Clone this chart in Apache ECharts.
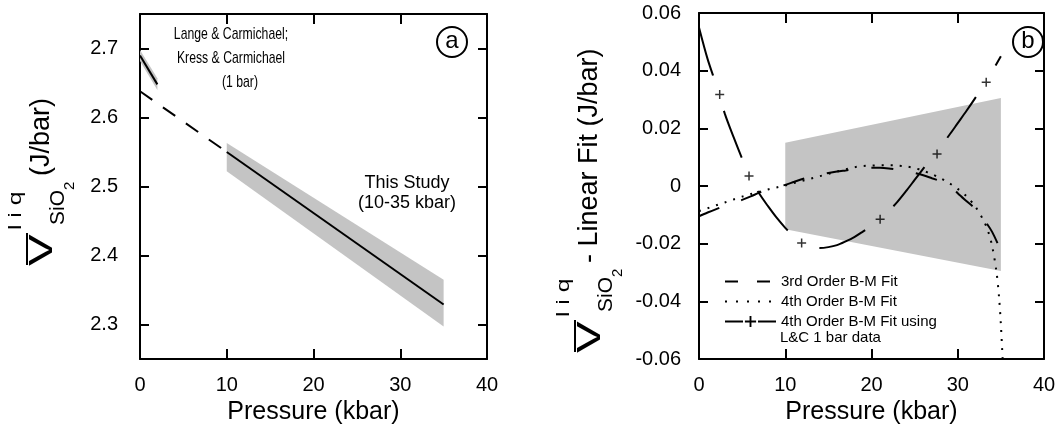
<!DOCTYPE html>
<html>
<head>
<meta charset="utf-8">
<script src="https://cdn.jsdelivr.net/npm/echarts@6/dist/echarts.min.js"></script>
<style>
  html, body { margin: 0; padding: 0; background: #fff; }
  #chart { width: 1063px; height: 439px; }
</style>
</head>
<body>
<div id="chart"></div>
<script>
// ---------- panel (a) ----------
const fitX = [0, 10];                 // linear fit extrapolated to 1 bar (dashed)
const fitY = [2.638, 2.550];
const studyX = [10, 35];              // this study, 10-35 kbar
const studyY = [2.550, 2.329];
const studyBandX = [10, 35];
const studyBandHi = [2.563, 2.365];
const studyBandLo = [2.522, 2.297];
const lcX = [0, 2];                   // Lange & Carmichael / Kress & Carmichael
const lcY = [2.690, 2.648];
const lcBandHi = [2.698, 2.657];
const lcBandLo = [2.682, 2.640];

// ---------- panel (b) ----------
const pX = [0, 1, 2, 3, 4, 5, 6, 7, 8, 9, 10, 11, 12, 13, 14, 15, 16, 17, 18, 19,
  20, 21, 22, 23, 24, 25, 26, 27, 28, 29, 30, 31, 32, 33, 34, 35];
const bm3Y = [-0.0105, -0.0092, -0.0080, -0.0069, -0.0058, -0.0048, -0.0036, -0.0023, -0.0012, -0.0004,
  0.0004, 0.0014, 0.0024, 0.0032, 0.0039, 0.0045, 0.0050, 0.0054, 0.0058, 0.0061,
  0.0063, 0.0063, 0.0061, 0.0057, 0.0052, 0.0045, 0.0037, 0.0027, 0.0017, 0.0006,
  -0.0025, -0.0052, -0.0078, -0.0115, -0.0160, -0.0225];
const bm4X = [0, 1, 2, 3, 4, 5, 6, 7, 8, 9, 10, 11, 12, 13, 14, 15, 16, 17, 18, 19,
  20, 21, 22, 23, 24, 25, 26, 27, 28, 29, 30, 31, 32, 33, 33.5, 34, 34.5, 34.8, 35, 35.2];
const bm4Y = [-0.0087, -0.0077, -0.0067, -0.0057, -0.0047, -0.0037, -0.0028, -0.0020, -0.0012, -0.0005,
  0.0002, 0.0010, 0.0018, 0.0026, 0.0034, 0.0042, 0.0050, 0.0058, 0.0065, 0.0069,
  0.0071, 0.0072, 0.0072, 0.0071, 0.0068, 0.0062, 0.0053, 0.0041, 0.0027, 0.0010,
  -0.0010, -0.0035, -0.0070, -0.0120, -0.0155, -0.0210, -0.0300, -0.0390, -0.0480, -0.0600];
const lcFitY = [0.0550, 0.0440, 0.0350, 0.0250, 0.0170, 0.0095, 0.0025, -0.0027, -0.0070, -0.0110,
  -0.0145, -0.0175, -0.0198, -0.0210, -0.0215, -0.0212, -0.0205, -0.0192, -0.0177, -0.0158,
  -0.0138, -0.0115, -0.0087, -0.0055, -0.0018, 0.0021, 0.0060, 0.0098, 0.0136, 0.0176,
  0.0218, 0.0260, 0.0304, 0.0350, 0.0398, 0.0450];
const plusX = [2.4, 5.8, 11.9, 21.0, 27.6, 33.3];
const plusY = [0.0317, 0.0035, -0.0198, -0.0115, 0.0111, 0.0360];
const errBandX = [10, 35];
const errBandHi = [0.0150, 0.0305];
const errBandLo = [-0.0150, -0.0295];

const FONT = '"Liberation Sans", Arial, Helvetica, sans-serif';
const INK = '#000';
const BAND = '#c4c4c4';
const PLUS = 'path://M4,0h1.6v9.6h-1.6z M0,4h9.6v1.6h-9.6z';

const zip = (xs, ys) => xs.map((x, i) => [x, ys[i]]);

function bandSeries(xs, hi, lo, axis) {
  return {
    type: 'custom', xAxisIndex: axis, yAxisIndex: axis, silent: true, z: 1,
    data: [[xs[0], hi[0]]],
    renderItem: (params, api) => {
      const pts = [];
      xs.forEach((x, i) => pts.push(api.coord([x, hi[i]])));
      for (let i = xs.length - 1; i >= 0; i--) pts.push(api.coord([xs[i], lo[i]]));
      return { type: 'polygon', shape: { points: pts }, style: { fill: BAND } };
    },
  };
}

function lineSeries(name, data, axis, dash, extra) {
  return Object.assign({
    name, type: 'line', data, xAxisIndex: axis, yAxisIndex: axis,
    symbol: 'none', silent: true, z: 3,
    lineStyle: { color: INK, width: 2, type: dash },
    itemStyle: { color: INK },
  }, extra || {});
}

function xAxes(grid) {
  const base = {
    gridIndex: grid, type: 'value', min: 0, max: 40, interval: 10,
    axisLine: { onZero: false, lineStyle: { color: INK, width: 2 } },
    axisTick: { inside: true, length: 10, lineStyle: { color: INK, width: 2 } },
    splitLine: { show: false },
  };
  return [
    Object.assign({}, base, {
      position: 'bottom',
      axisLabel: { color: INK, fontSize: 20, fontFamily: FONT, margin: 16 },
      name: 'Pressure (kbar)', nameLocation: 'middle', nameGap: 30,
      nameTextStyle: { color: INK, fontSize: 25, fontFamily: FONT },
    }),
    Object.assign({}, base, { position: 'top', axisLabel: { show: false } }),
  ];
}

function yAxes(grid, range, labelOpt, tickOpt) {
  const base = Object.assign({
    gridIndex: grid, type: 'value',
    axisLine: { onZero: false, lineStyle: { color: INK, width: 2 } },
    splitLine: { show: false },
  }, range);
  return [
    Object.assign({}, base, {
      position: 'left',
      axisTick: Object.assign({ inside: true, length: 9, lineStyle: { color: INK, width: 2 } }, tickOpt),
      axisLabel: Object.assign({ color: INK, fontSize: 20, fontFamily: FONT }, labelOpt),
    }),
    Object.assign({}, base, {
      position: 'right',
      axisTick: Object.assign({ inside: true, length: 9, lineStyle: { color: INK, width: 2 } }, tickOpt),
      axisLabel: { show: false },
    }),
  ];
}

// rotated text for the y-axis titles (centre of the glyphs at x, text starting at y)
function vt(text, x, y, size, sx) {
  return {
    type: 'text', x, y, rotation: Math.PI / 2, scaleX: sx || 1, silent: true,
    style: { text, font: `${size}px ${FONT}`, fill: INK, align: 'left', verticalAlign: 'middle' },
  };
}
function yTitle(dx, dy, tail) {
  return [
    vt('V', 43 + dx, 266 + dy, 34, 1.4),
    { type: 'line', silent: true, shape: { x1: 27 + dx, y1: 233 + dy, x2: 27 + dx, y2: 265 + dy },
      style: { stroke: INK, lineWidth: 2 } },
    vt('l i q', 16 + dx, 230 + dy, 19, 1.3),
    vt('SiO', 58 + dx, 225 + dy, 21),
    vt('2', 70 + dx, 190 + dy, 15),
    vt(tail, 42 + dx, 176 + dy, 27),
  ];
}
function txt(text, x, y, size, align, sx) {
  return {
    type: 'text', x, y, silent: true, scaleX: sx || 1,
    style: { text, font: `${size}px ${FONT}`, fill: INK, align: align || 'center', verticalAlign: 'middle' },
  };
}
function circleLabel(ch, cx, cy) {
  return [
    { type: 'circle', silent: true, shape: { cx, cy, r: 15 }, style: { fill: '#fff', stroke: INK, lineWidth: 2 } },
    txt(ch, cx, cy - 1, 24),
  ];
}

const chart = echarts.init(document.getElementById('chart'), null, { renderer: 'canvas' });

const option = {
  animation: false,
  backgroundColor: '#fff',
  grid: [
    { left: 140, top: 14, width: 347, height: 345, outerBoundsMode: 'none' },
    { left: 699, top: 13, width: 345, height: 346, outerBoundsMode: 'none' },
  ],
  xAxis: [...xAxes(0), ...xAxes(1)],
  yAxis: [
    ...yAxes(0, { min: 2.25, max: 2.75 },
      { margin: 22, customValues: [2.3, 2.4, 2.5, 2.6, 2.7], formatter: (v) => v.toFixed(1) },
      { customValues: [2.3, 2.4, 2.5, 2.6, 2.7] }),
    ...yAxes(1, { min: -0.06, max: 0.06, interval: 0.02 },
      { margin: 18, formatter: (v) => (Math.abs(v) < 1e-9 ? '0' : v.toFixed(2)) }, {}),
  ],
  legend: {
    left: 719, top: 269, orient: 'vertical',
    itemWidth: 51, itemHeight: 14, itemGap: 5,
    selectedMode: false,
    textStyle: { color: INK, fontSize: 15, fontFamily: FONT, lineHeight: 14 },
    data: [
      { name: '3rd Order B-M Fit', lineStyle: { type: [13, 19] }, itemStyle: { opacity: 0 } },
      { name: '4th Order B-M Fit', lineStyle: { type: [2, 9] }, itemStyle: { opacity: 0 } },
      { name: '4th Order B-M Fit using', lineStyle: { type: [18, 15] } },
    ],
  },
  series: [
    // (a)
    bandSeries(studyBandX, studyBandHi, studyBandLo, 0),
    bandSeries(lcX, lcBandHi, lcBandLo, 0),
    lineSeries('fit', zip(fitX, fitY), 0, [15, 13]),
    lineSeries('study', zip(studyX, studyY), 0, 'solid'),
    lineSeries('lc', zip(lcX, lcY), 0, 'solid'),
    // (b)
    bandSeries(errBandX, errBandHi, errBandLo, 2),
    lineSeries('3rd Order B-M Fit', zip(pX, bm3Y), 2, [22, 23], { smooth: 0.3 }),
    lineSeries('4th Order B-M Fit', zip(bm4X, bm4Y), 2, [2, 7], { smooth: 0.3 }),
    lineSeries('4th Order B-M Fit using', zip(pX, lcFitY), 2, [50, 37],
      { smooth: 0.3, symbol: PLUS, symbolSize: 9, showSymbol: false }),
    {
      type: 'scatter', xAxisIndex: 2, yAxisIndex: 2, silent: true, z: 4,
      data: zip(plusX, plusY), symbol: PLUS, symbolSize: 9, itemStyle: { color: INK },
    },
  ],
  graphic: [
    txt('Lange & Carmichael;', 231, 34, 17, 'center', 0.72),
    txt('Kress & Carmichael', 231, 58, 17, 'center', 0.72),
    txt('(1 bar)', 240, 82, 17, 'center', 0.72),
    txt('This Study', 407, 183, 18),
    txt('(10-35 kbar)', 407, 203, 18),
    ...circleLabel('a', 452, 42),
    ...circleLabel('b', 1028, 42),
    ...yTitle(0, 0, '(J/bar)'),
    ...yTitle(548, 87, '- Linear Fit (J/bar)'),
    txt('L&C 1 bar data', 780, 338, 15, 'left'),
  ],
};

chart.setOption(option);
</script>
</body>
</html>
